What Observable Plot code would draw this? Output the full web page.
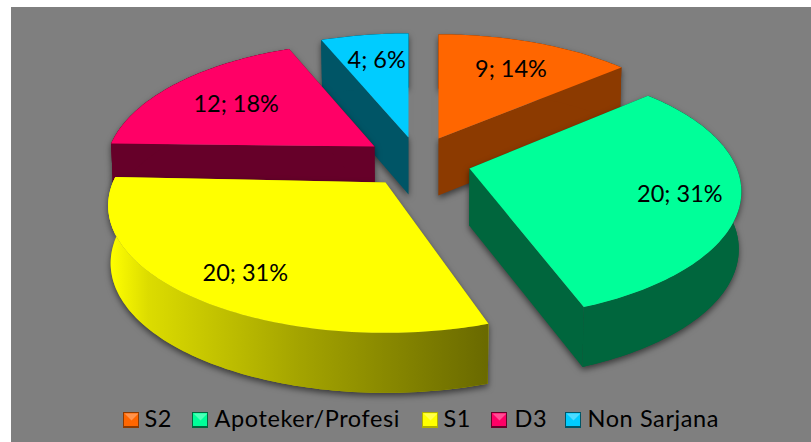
<!DOCTYPE html>
<html><head><meta charset="utf-8">
<script src="https://cdn.jsdelivr.net/npm/d3@7"></script>
<script src="https://cdn.jsdelivr.net/npm/@observablehq/plot@0.6"></script>
<style>html,body{margin:0;padding:0;background:#fff}svg{display:block}.leg text,text.leg,g.leg{letter-spacing:.6px}</style>
</head><body><div id="chart"></div>
<script>
const categories = ["S2", "Apoteker/Profesi", "S1", "D3", "Non Sarjana"];
const counts = [9, 20, 20, 12, 4];
const percents = [14, 31, 31, 18, 6];
const topColors = ["#ff6600", "#00ff99", "#ffff00", "#ff0066", "#00ccff"];
const sideColors = ["#8c3a00", "#00663d", "#b0b000", "#660029", "#005566"];
const swatchX = [123, 192, 422, 491, 565];
const legendTextX = [144, 214, 443, 514, 587];
const labelRadius = [0.72, 0.785, 0.775, 0.68, 0.69];
const labelDy = [3, 0, 4, 2, -3];
const explodeX = [21, 52, -32, -43, -9];
const explodeY = [-20, 10, 24, -12, -21];
const perspectiveScale = [0.99, 0.99, 1.01, 0.98, 1];
const perspectiveTurn = [0, -1.4, 1.2, 0, 0];
const paintOrder = [4, 0, 3, 1, 2];

const W = 811, H = 442;
const x0 = 417, y0 = 158, A = 270, B = 123, k = 0.182;
const local = (u, v) => { const w = 1 + k * v; return [A * u / w, -B * v / w]; };
const arcs = d3.pie().sort(null)(counts);

function buildSlice(a, i) {
  const mid = (a.startAngle + a.endAngle) / 2;
  const turn = perspectiveTurn[i] * Math.PI / 180;
  const cx = x0 + explodeX[i], cy = y0 + explodeY[i];
  const at = (u, v) => { const [dx, dy] = local(u, v); return [cx + dx * perspectiveScale[i], cy + dy]; };
  const n = Math.ceil((a.endAngle - a.startAngle) / 0.02);
  const rim = d3.range(n + 1).map(j => {
    const t = a.startAngle + turn + (a.endAngle - a.startAngle) * j / n;
    return [Math.sin(t), Math.cos(t)];
  });
  const down = ([u, v]) => {
    const [x, y] = at(u, v);
    return [x0 + (x - x0) * 0.992, y + 57 - 3 * v];
  };
  const topRim = rim.map(p => at(...p));
  const botRim = rim.map(down);
  const apexT = at(0, 0), apexB = down([0, 0]);
  return {
    top: [apexT, ...topRim],
    outer: [...topRim, ...botRim.slice().reverse()],
    wallA: [apexT, topRim[0], botRim[0], apexB],
    wallB: [apexT, topRim[n], botRim[n], apexB],
    label: r => at(r * Math.sin(mid), r * Math.cos(mid))
  };
}
const slices = arcs.map(buildSlice);
const poly = (pts, fill, extra = {}) => Plot.line(pts, {x: d => d[0], y: d => d[1], fill, stroke: "none", ...extra});

const sliceMarks = paintOrder.flatMap(i => {
  const s = slices[i];
  const outerFill = i === 2 ? "url(#yellowSide)" : sideColors[i];
  const silhouette = [["o", s.outer], ["a", s.wallA], ["b", s.wallB]]
    .flatMap(([part, pts]) => pts.map(p => ({x: p[0], y: p[1], part})));
  return [
    Plot.line(silhouette, {x: "x", y: "y", z: "part", fill: sideColors[i], stroke: "none",
      imageFilter: "drop-shadow(0px 3px 3px rgba(0,0,0,0.55))"}),
    poly(s.outer, outerFill),
    poly(s.top, topColors[i])
  ];
});

const labels = categories.map((c, i) => {
  const [x, y] = slices[i].label(labelRadius[i]);
  return {x, y: y + labelDy[i], text: `${counts[i]}; ${percents[i]}%`};
});
const swatches = categories.map((c, i) => ({x: swatchX[i], c: topColors[i], side: sideColors[i]}));
const legendLabels = categories.map((c, i) => ({x: legendTextX[i], text: c}));
const bevels = swatches.flatMap((s, i) => [[1, 413], [15, 413], [8, 420]].map(([dx, y]) => ({x: s.x + dx, y, i})));

const defs = () => {
  const d = d3.create("svg:defs");
  const g = d.append("linearGradient").attr("id", "yellowSide").attr("gradientUnits", "userSpaceOnUse")
    .attr("x1", 110).attr("x2", 485).attr("y1", 0).attr("y2", 0);
  [[0, "#ffff00"], [0.1, "#dcdc00"], [0.5, "#a4a400"], [1, "#6a6a00"]]
    .forEach(([o, c]) => g.append("stop").attr("offset", o).attr("stop-color", c));
  return d.node();
};

const chart = Plot.plot({
  width: W, height: H, margin: 0,
  x: {domain: [0, W], range: [0, W], axis: null},
  y: {domain: [0, H], range: [0, H], axis: null},
  style: {background: "#fff"},
  marks: [
    defs,
    Plot.rect([0], {x1: 11, x2: W, y1: 7, y2: H, fill: "#7f7f7f"}),
    ...sliceMarks,
    Plot.text(labels, {x: "x", y: "y", text: "text", fontFamily: "Lato", fontSize: 23.5, fill: "#000"}),
    Plot.rect(swatches, {x1: "x", x2: d => d.x + 16, y1: 412, y2: 428, fill: "side"}),
    Plot.rect(swatches, {x1: d => d.x + 1, x2: d => d.x + 15, y1: 413, y2: 426, fill: "c"}),
    Plot.line(bevels, {x: "x", y: "y", z: "i", fill: "#fff", fillOpacity: 0.3, stroke: "none"}),
    Plot.text(legendLabels, {x: "x", y: 419, text: "text", textAnchor: "start", fontFamily: "Lato", fontSize: 23.5, fill: "#000", className: "leg"})
  ]
});
document.getElementById("chart").appendChild(chart);
</script></body></html>
